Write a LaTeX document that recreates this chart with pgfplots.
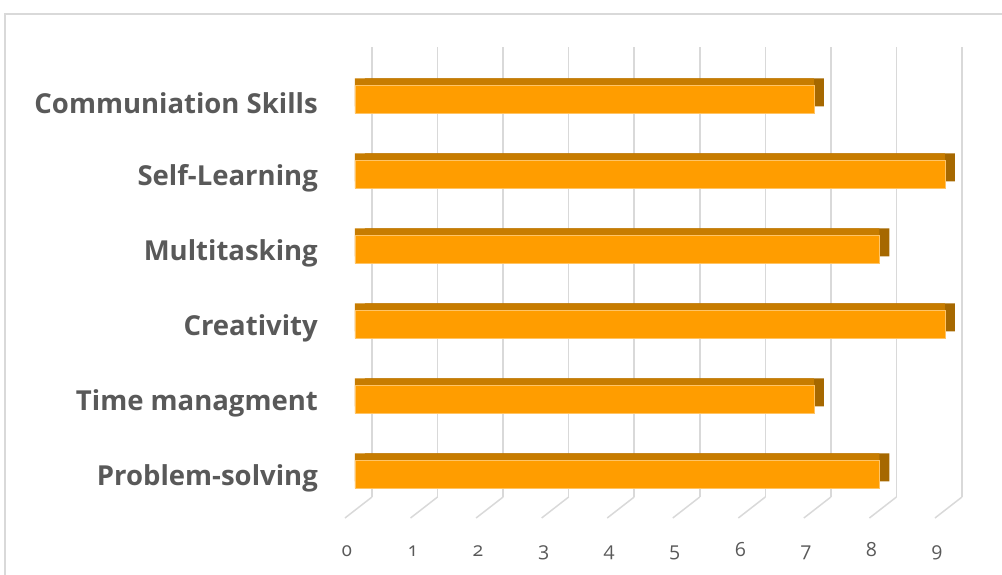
\documentclass[border=0pt]{standalone}
\usepackage{pgfplots}
\pgfplotsset{compat=1.18}
\usepackage{fontspec}
\setmainfont{Open Sans}
\definecolor{front}{RGB}{255,157,0}
\definecolor{topc}{RGB}{199,124,0}
\definecolor{side}{RGB}{166,104,0}
\definecolor{gridc}{RGB}{217,217,217}
\definecolor{txt}{RGB}{89,89,89}
\begin{document}
\begin{tikzpicture}[x=1pt,y=1pt]
\path[use as bounding box] (0,0) rectangle (1002,575);
\draw[gridc, line width=1.5pt] (5,-10) -- (5,561) -- (1012,561);
\begin{axis}[
  anchor=south west, at={(372pt,78pt)},
  scale only axis, width=590pt, height=450pt,
  xmin=0, xmax=9, ymin=-0.5, ymax=5.5,
  clip=false,
  axis line style={draw=none},
  xtick={0,...,9},
  ytick={0,...,5},
  yticklabels={Problem-solving,Time managment,Creativity,Multitasking,Self-Learning,Communiation Skills},
  major tick length=0pt,
  xmajorgrids, ymajorgrids=false,
  major grid style={draw=gridc, line width=1.5pt},
  /pgf/number format/assume math mode=true,
  xticklabel style={anchor=base, yshift=-60pt, xshift=-25pt, font=\fontsize{19.5}{23}\selectfont\addfontfeature{Numbers=OldStyle}, text=txt},
  yticklabel style={anchor=east, inner sep=0pt, xshift=-54pt, yshift=-19pt, font=\fontsize{27.5}{32}\selectfont\bfseries, text=txt},
]
\addplot[quiver={u=-0.412, v=-0.28}, mark=none, draw=gridc, line width=1.5pt, -] coordinates {
 (0,-0.5) (1,-0.5) (2,-0.5) (3,-0.5) (4,-0.5) (5,-0.5) (6,-0.5) (7,-0.5) (8,-0.5) (9,-0.5)};
\addplot[xbar, bar shift=0pt, bar width=28pt, fill=side, draw=none, xshift=-7pt, yshift=-8pt] coordinates {
 (8,0) (7,1) (9,2) (8,3) (9,4) (7,5)};
\addplot[xbar, bar shift=0pt, bar width=28pt, fill=topc, draw=none, xshift=-17pt, yshift=-8pt] coordinates {
 (8,0) (7,1) (9,2) (8,3) (9,4) (7,5)};
\addplot[xbar, bar shift=0pt, bar width=28pt, fill=front, draw=front!60!white, line width=0.6pt, xshift=-17pt, yshift=-15pt] coordinates {
 (8,0) (7,1) (9,2) (8,3) (9,4) (7,5)};
\end{axis}
\end{tikzpicture}
\end{document}
